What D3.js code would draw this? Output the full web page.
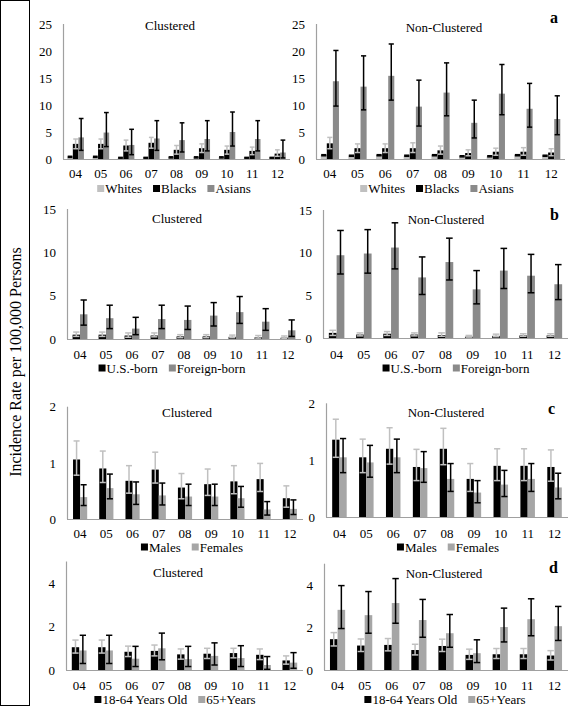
<!DOCTYPE html>
<html><head><meta charset="utf-8">
<script src="https://cdn.jsdelivr.net/npm/d3@7"></script>
<style>
body{margin:0;background:#fff}
svg{display:block}
</style>
</head><body>
<svg id="c" width="568" height="711"></svg>
<script>
const years = ["04","05","06","07","08","09","10","11","12"];

// each entry: [rate, lower CI, upper CI]
// a: race/ethnicity
const aClWhites = [[0.4,0.3,0.5],[0.4,0.3,0.5],[0.2,0.15,0.3],[0.2,0.15,0.3],[0.3,0.2,0.4],[0.3,0.2,0.4],[0.3,0.2,0.4],[0.2,0.15,0.3],[0.2,0.15,0.3]];
const aClBlacks = [[2.8,1.9,3.7],[2.8,1.9,3.7],[2.5,1.5,3.5],[3.0,2.0,4.0],[1.7,0.9,2.5],[2.0,1.2,2.8],[1.7,0.9,2.4],[1.5,0.8,2.2],[1.0,0.5,1.7]];
const aClAsians = [[4.0,1.6,7.5],[4.9,2.3,8.6],[2.6,0.8,5.5],[3.8,1.6,7.1],[3.5,1.3,6.7],[3.7,1.5,7.1],[5.0,2.4,8.7],[3.7,1.5,7.1],[1.2,0.2,3.5]];
const aNcWhites = [[0.7,0.6,0.8],[0.6,0.5,0.7],[0.7,0.6,0.8],[0.6,0.5,0.7],[0.7,0.6,0.8],[0.5,0.4,0.6],[0.5,0.4,0.6],[0.7,0.6,0.8],[0.6,0.5,0.7]];
const aNcBlacks = [[2.9,1.9,4.0],[2.0,1.2,2.8],[2.0,1.2,2.8],[2.0,1.2,3.0],[1.6,0.9,2.4],[1.1,0.6,1.7],[1.35,0.7,2.0],[1.35,0.7,2.1],[1.2,0.6,1.9]];
const aNcAsians = [[14.4,9.8,20.1],[13.4,9.1,19.1],[15.4,10.9,21.3],[9.7,6.1,14.6],[12.3,8.0,17.8],[6.7,3.9,10.9],[12.1,8.2,17.5],[9.3,5.9,14.0],[7.4,4.5,11.7]];
// b: nativity
const bClUS = [[0.5,0.3,0.8],[0.5,0.3,0.8],[0.4,0.2,0.7],[0.4,0.25,0.7],[0.3,0.15,0.5],[0.3,0.15,0.5],[0.25,0.15,0.45],[0.2,0.1,0.4],[0.15,0.05,0.35]];
const bClFB = [[2.85,1.6,4.5],[2.4,1.2,3.9],[1.2,0.5,2.5],[2.3,1.2,3.9],[2.2,1.1,3.8],[2.7,1.5,4.2],[3.1,1.8,4.9],[2.0,1.0,3.5],[1.0,0.3,2.2]];
const bNcUS = [[0.6,0.3,0.9],[0.4,0.25,0.6],[0.5,0.3,0.75],[0.4,0.25,0.6],[0.35,0.2,0.6],[0.15,0.1,0.3],[0.25,0.15,0.45],[0.3,0.2,0.5],[0.3,0.2,0.5]];
const bNcFB = [[9.7,7.5,12.6],[9.9,7.6,12.7],[10.6,8.1,13.5],[7.1,5.1,9.5],[8.9,6.8,11.7],[5.7,4.0,7.9],[7.9,5.8,10.5],[7.3,5.3,9.8],[6.3,4.5,8.6]];
// c: sex
const cClM = [[1.06,0.78,1.39],[0.9,0.65,1.21],[0.68,0.46,0.95],[0.88,0.64,1.19],[0.56,0.36,0.81],[0.62,0.42,0.89],[0.67,0.45,0.95],[0.71,0.49,0.99],[0.37,0.21,0.59]];
const cClF = [[0.39,0.24,0.61],[0.55,0.36,0.8],[0.44,0.26,0.66],[0.42,0.25,0.64],[0.4,0.24,0.62],[0.4,0.24,0.62],[0.37,0.21,0.58],[0.17,0.07,0.31],[0.18,0.08,0.34]];
const cNcM = [[1.36,1.05,1.72],[1.05,0.78,1.37],[1.2,0.93,1.57],[0.88,0.64,1.19],[1.2,0.92,1.56],[0.67,0.45,0.94],[0.9,0.64,1.2],[0.9,0.64,1.2],[0.88,0.63,1.18]];
const cNcF = [[1.05,0.78,1.38],[0.96,0.7,1.26],[1.05,0.78,1.37],[0.86,0.61,1.15],[0.67,0.45,0.94],[0.43,0.25,0.64],[0.57,0.36,0.82],[0.67,0.45,0.94],[0.52,0.32,0.77]];
// d: age
const dClA = [[1.05,0.78,1.38],[1.05,0.78,1.38],[0.84,0.62,1.1],[0.88,0.65,1.15],[0.72,0.5,0.97],[0.75,0.53,1.0],[0.78,0.56,1.0],[0.7,0.48,0.97],[0.44,0.27,0.65]];
const dClO = [[0.9,0.3,1.6],[0.9,0.3,1.6],[0.52,0.16,1.09],[1.0,0.47,1.7],[0.5,0.16,1.09],[0.65,0.23,1.25],[0.55,0.16,1.12],[0.23,0.03,0.62],[0.34,0.08,0.8]];
const dNcA = [[1.45,1.13,1.76],[1.15,0.87,1.46],[1.18,0.9,1.48],[0.94,0.71,1.21],[1.13,0.87,1.45],[0.71,0.5,0.98],[0.74,0.54,1.01],[0.74,0.54,1.01],[0.68,0.47,0.91]];
const dNcO = [[2.83,1.95,3.97],[2.58,1.73,3.69],[3.15,2.2,4.3],[2.35,1.54,3.32],[1.73,1.07,2.61],[0.79,0.35,1.42],[2.02,1.32,2.91],[2.39,1.61,3.35],[2.06,1.39,2.99]];

const seriesNamesA = ["Whites","Blacks","Asians"];
const seriesNamesB = ["U.S.-born","Foreign-born"];
const seriesNamesC = ["Males","Females"];
const seriesNamesD = ["18-64 Years Old","65+Years"];
const yTicksA = [0,5,10,15,20,25];
const yTicksB = [0,5,10,15];
const yTicksC = [0,1,2];
const yTicksD = [0,2,4];
const panelTitles = ["Clustered","Non-Clustered"];
const rowLetters = ["a","b","c","d"];

const FONT = '"Liberation Serif","Times New Roman",serif';
const LG = "#c0c0c0", DG = "#8a8a8a", MG = "#a6a6a6";

const rows = [
  {names: seriesNamesA, fills:[LG,"#000",DG], errs:["#000",LG,"#000"], ticks:yTicksA, max:25, pad:0.66,
   catY:178, legY:189, letter:[550,23],
   panels:[{data:[aClWhites,aClBlacks,aClAsians], x0:63, x1:290, y0:159, yT:24, title:[170,30], leg:174},
           {data:[aNcWhites,aNcBlacks,aNcAsians], x0:316, x1:565, y0:159, yT:24, title:[444,32], leg:437}]},
  {names: seriesNamesB, fills:["#000",DG], errs:[LG,"#000"], ticks:yTicksB, max:15, pad:0.57,
   catY:359, legY:368.5, letter:[550,220],
   panels:[{data:[bClUS,bClFB], x0:67, x1:301, y0:339, yT:209, title:[177,223], leg:172},
           {data:[bNcUS,bNcFB], x0:323, x1:568, y0:338, yT:210, title:[446,224], leg:456}]},
  {names: seriesNamesC, fills:["#000",MG], errs:[LG,"#000"], ticks:yTicksC, max:2, pad:0.54,
   catY:538, legY:547.5, letter:[548,414],
   panels:[{data:[cClM,cClF], x0:67, x1:303, y0:519, yT:406.7, title:[187,417], leg:192},
           {data:[cNcM,cNcF], x0:326, x1:568, y0:517, yT:403.3, title:[446,417], leg:448}]},
  {names: seriesNamesD, fills:["#000",MG], errs:[LG,"#000"], ticks:yTicksD, max:5, pad:0.56,
   catY:690, legY:700, letter:[549,573],
   panels:[{data:[dClA,dClO], x0:66, x1:303, y0:670, yT:561.5, title:[178,577], leg:175},
           {data:[dNcA,dNcO], x0:324, x1:568, y0:670, yT:563.7, title:[444,578], leg:445}]}
];

const svg = d3.select("#c");
const txt = (sel, size) => sel.style("font-family", FONT).style("font-size", size + "px").attr("fill", "#000");

// left label box
svg.append("rect").attr("x",0.5).attr("y",0.5).attr("width",29).attr("height",705)
  .attr("fill","none").attr("stroke","#000").attr("stroke-width",1);
txt(svg.append("text").attr("transform","translate(21,362) rotate(-90)")
  .attr("text-anchor","middle"), 16)
  .text("Incidence Rate per 100,000 Persons");

rows.forEach((row, ri) => {
  row.panels.forEach((p, pi) => {
    const g = svg.append("g");
    const x = d3.scaleBand().domain(years).range([p.x0, p.x1]);
    const y = d3.scaleLinear().domain([0,row.max]).range([p.y0, p.yT]);
    const ns = row.names.length;
    const groupW = x.bandwidth()*row.pad;
    const xs = d3.scaleBand().domain(d3.range(ns)).range([0, groupW]);
    const off = (x.bandwidth()-groupW)/2;

    // y axis line
    g.append("line").attr("x1",p.x0+0.5).attr("x2",p.x0+0.5).attr("y1",y(row.max)).attr("y2",p.y0)
      .attr("stroke","#a0a0a0").attr("stroke-width",1.2);
    // y tick labels
    const ya = d3.axisLeft(y).tickValues(row.ticks).tickFormat(d3.format("d")).tickSize(0).tickPadding(11);
    const yg = g.append("g").attr("transform",`translate(${p.x0},0)`).call(ya);
    yg.attr("font-family", null);
    yg.select(".domain").remove();
    txt(yg.selectAll("text"), 13);

    // bars
    p.data.forEach((ser, si) => {
      g.selectAll(null).data(ser).enter().append("rect")
        .attr("x",(d,i)=>x(years[i])+off+xs(si))
        .attr("width",xs.bandwidth())
        .attr("y",d=>y(d[0]))
        .attr("height",d=>p.y0-y(d[0]))
        .attr("fill",row.fills[si]);
    });
    // error bars
    p.data.forEach((ser, si) => {
      const bw = xs.bandwidth();
      const cap = bw*0.85;
      const col = row.errs[si];
      ser.forEach((d,i) => {
        const cx = x(years[i])+off+xs(si)+bw/2;
        g.append("line").attr("x1",cx).attr("x2",cx).attr("y1",y(d[1])).attr("y2",y(d[2]))
          .attr("stroke",col).attr("stroke-width",1.5);
        [d[1],d[2]].forEach(v => {
          g.append("line").attr("x1",cx-cap/2).attr("x2",cx+cap/2).attr("y1",y(v)).attr("y2",y(v))
            .attr("stroke",col).attr("stroke-width",1.5);
        });
      });
    });

    // x axis line
    g.append("line").attr("x1",p.x0).attr("x2",p.x1).attr("y1",p.y0+0.5).attr("y2",p.y0+0.5)
      .attr("stroke","#a0a0a0").attr("stroke-width",1.2);
    // category labels
    txt(g.selectAll(null).data(years).enter().append("text")
      .attr("x",d=>x(d)+x.bandwidth()/2).attr("y",row.catY)
      .attr("text-anchor","middle"), 13).text(d=>d);

    // title
    txt(g.append("text").attr("x",p.title[0]).attr("y",p.title[1]).attr("text-anchor","middle"), 13)
      .text(panelTitles[pi]);

    // legend
    const lg = g.append("g");
    const items = [];
    row.names.forEach((n, si) => {
      const it = lg.append("g");
      it.append("rect").attr("x",0).attr("y",-4).attr("width",7).attr("height",7).attr("fill",row.fills[si]);
      const t = txt(it.append("text").attr("x",8).attr("y",4), 13).text(n);
      const w = 8 + t.node().getComputedTextLength();
      items.push({it, w});
    });
    const gap = 11;
    const total = d3.sum(items, d=>d.w) + gap*(items.length-1);
    let sx = p.leg - total/2;
    items.forEach(d => { d.it.attr("transform",`translate(${sx},${row.legY})`); sx += d.w + gap; });

    if (pi === 1) {
      txt(svg.append("text").attr("x",row.letter[0]).attr("y",row.letter[1]), 16)
        .style("font-weight","bold").text(rowLetters[ri]);
    }
  });
});
</script>
</body></html>
